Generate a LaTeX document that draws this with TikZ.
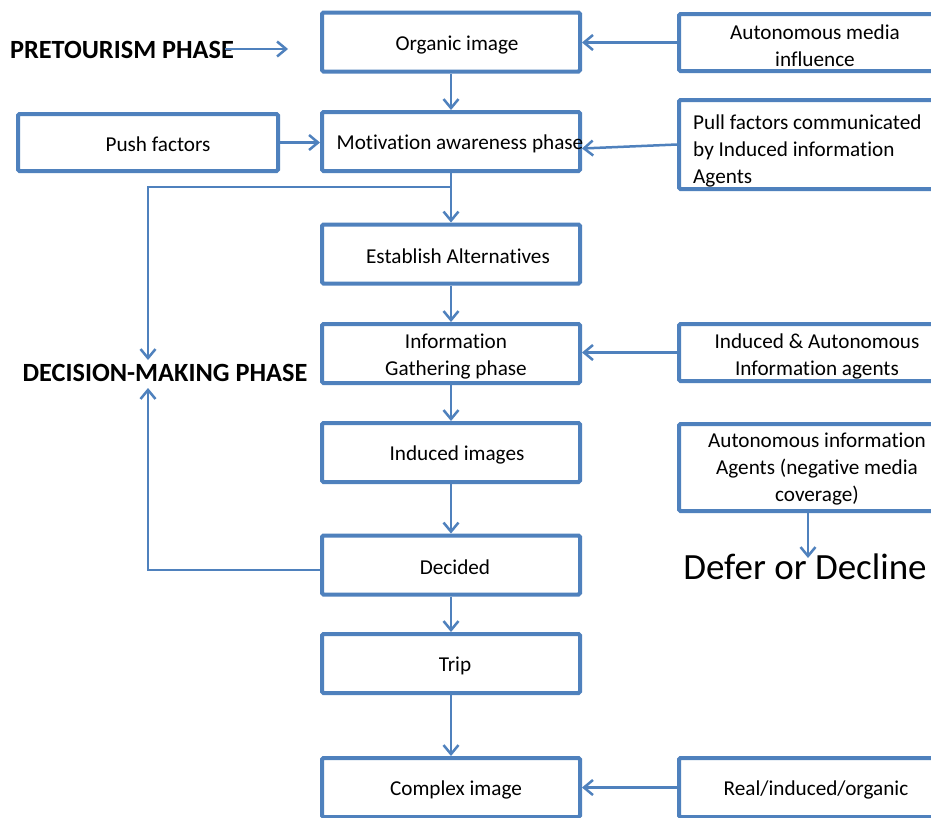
\documentclass[tikz,border=0pt]{standalone}
\usepackage{fontspec}
\setmainfont[Ligatures=NoCommon,RawFeature={-liga;-clig;-dlig}]{Carlito}
\usetikzlibrary{arrows.meta,calc}
\definecolor{lineblue}{HTML}{4F81BD}
\begin{document}
\begin{tikzpicture}[x=1pt,y=-1pt,
  box/.style={draw=lineblue,line width=4pt,rounded corners=1.5pt,inner sep=0pt,minimum height=59pt},
  cbox/.style={box,minimum width=258pt},
  rbox/.style={box,minimum width=274pt},
  txt/.style={font=\fontsize{21.2}{27}\selectfont,align=center,inner sep=0pt},
  bigb/.style={font=\fontsize{26.3}{30}\selectfont\bfseries,inner sep=0pt},
  conn/.style={draw=lineblue,line width=2.5pt,-{Straight Barb[length=9pt,width=15pt]}},
  plain/.style={draw=lineblue,line width=2.5pt}]
\useasboundingbox (0,0) rectangle (931,817);
\clip (0,0) rectangle (931,817);
\fill[white] (0,0) rectangle (931,817);
% centre column boxes
\node[cbox] (org) at (451,42) {};
\node[cbox] (mot) at (451,141.5) {};
\node[cbox] (est) at (451,254) {};
\node[cbox] (info) at (451,353.5) {};
\node[cbox] (ind) at (451,452.5) {};
\node[cbox] (dec) at (451,565) {};
\node[cbox] (trip) at (451,663.5) {};
\node[cbox] (cplx) at (451,787.5) {};
% right column boxes
\node[rbox,minimum height=57pt] (media) at (816,42.5) {};
\node[rbox,minimum height=89pt] (pull) at (816,144.5) {};
\node[rbox,minimum height=57pt] (iaa) at (816,352.5) {};
\node[rbox,minimum height=87pt] (neg) at (816,467.5) {};
\node[rbox] (real) at (816,787.5) {};
% left box
\node[box,minimum width=260pt,minimum height=57pt] (push) at (148,142.5) {};
% texts
\node[txt] (orgt) at (457,45) {Organic image};
\node[txt] (mott) at (460,144) {Motivation awareness phase};
\node[txt] (estt) at (458,256) {Establish Alternatives};
\node[txt] (infot) at (456,356.5) {Information\\Gathering phase};
\node[txt] (indt) at (457,455) {Induced images};
\node[txt] (dect) at (455,567) {Decided};
\node[txt] (tript) at (455,666) {Trip};
\node[txt] (cplxt) at (456,790) {Complex image};
\node[txt] (mediat) at (815,46) {Autonomous media\\influence};
\node[txt,align=left,anchor=west] (pullt) at (693,151) {Pull factors communicated\\by Induced information\\Agents};
\node[txt] (iaat) at (817,356) {Induced \& Autonomous\\Information agents};
\node[txt] (negt) at (817,469) {Autonomous information\\Agents (negative media\\coverage)};
\node[txt] (realt) at (816,790) {Real/induced/organic};
\node[txt] (pusht) at (158,144) {Push factors};
\node[bigb] (pre) at (122,50) {PRETOURISM PHASE};
\node[bigb] (dmp) at (165,373) {DECISION-MAKING PHASE};
\node[font=\fontsize{37}{40}\selectfont,inner sep=0pt] (defer) at (805,567) {Defer or Decline};
% coordinates for free ends
\coordinate (pa) at (225,49);
\coordinate (pb) at (288,49);
\coordinate (br) at (451,187);
\coordinate (dtop) at (148,360);
\coordinate (dbot) at (148,388);
\coordinate (dtip) at (808,558);
% connectors
\draw[conn] (pa) -- (pb);
\draw[conn] (org) -- (mot);
\draw[conn] (mot) -- (est);
\draw[conn] (est) -- (info);
\draw[conn] (info) -- (ind);
\draw[conn] (ind) -- (dec);
\draw[conn] (dec) -- (trip);
\draw[conn] (trip) -- (cplx);
\draw[conn] (br) -| (dtop);
\draw[conn] ($(dec.west)+(0,5)$) -| (dbot);
\draw[conn] (media.west) -- (media.west -| org.east);
\draw[conn] (pull.west) -- ($(mot.east)+(0,7)$);
\draw[conn] (push.east) -- (push.east -| mot.west);
\draw[conn] (iaa.west) -- (iaa.west -| info.east);
\draw[conn] (real.west) -- (cplx.east);
\draw[conn] ($(neg.south)+(-8,0)$) -- (dtip);
\end{tikzpicture}
\end{document}
